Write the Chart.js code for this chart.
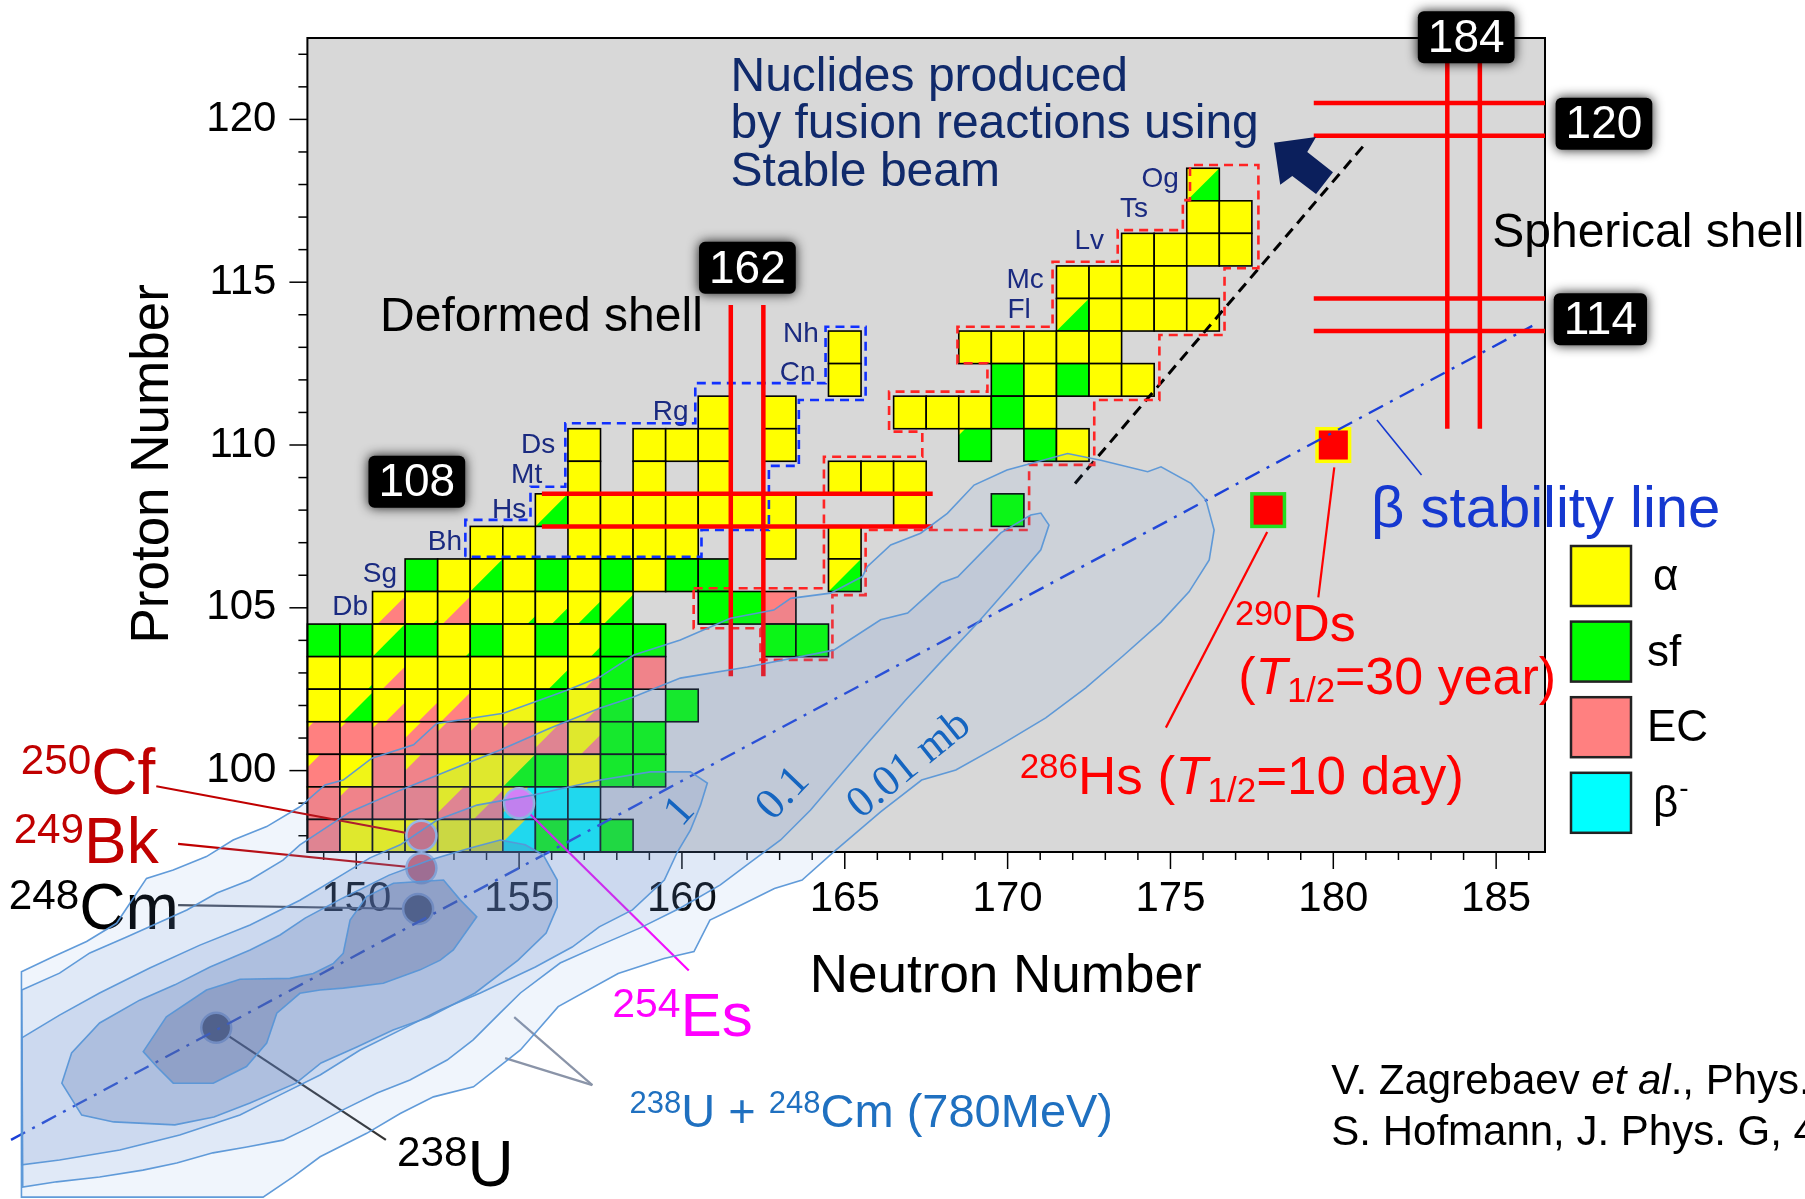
<!DOCTYPE html>
<html>
<head>
<meta charset="utf-8">
<script src="https://cdn.jsdelivr.net/npm/chart.js@4.4.1/dist/chart.umd.min.js"></script>
<style>
  html, body { margin: 0; padding: 0; background: #fff; }
  #wrap { width: 1805px; height: 1199px; }
</style>
</head>
<body>
<div id="wrap"><canvas id="chart" width="1805" height="1199"></canvas></div>
<script>
// --- Axis ranges and tick labels ---
const N_RANGE = [148.5, 186.5];
const Z_RANGE = [97.5, 122.5];
const X_TICKS = [150, 155, 160, 165, 170, 175, 180, 185];
const Y_TICKS = [100, 105, 110, 115, 120];

// --- Decay modes, one row per Z: [Z, first N, modes] ---
// a = alpha, s = sf, e = EC, b = beta-, '.' = nothing, 'a/s0.5' = split cell (lower-right part)
const DECAY_ROWS = [
  [118, 176, 'a/s1'],
  [117, 176, 'a a'],
  [116, 174, 'a a a a'],
  [115, 172, 'a a a a'],
  [114, 172, 'a/s1 a a a a'],
  [113, 165, 'a . . . a a a a a'],
  [112, 165, 'a . . . . s a s a a'],
  [111, 161, 'a . a . . . a a a s a'],
  [110, 157, 'a . a a a . a . . . . . a/s1.8 . s a'],
  [109, 157, 'a . a . a . . . a a a'],
  [108, 156, 'a/s1 a a a a a a a . . . a . . s'],
  [107, 154, 'a a . a a a a . . a . a'],
  [106, 152, 's a a/s1 a s a s a s s . . . a/s1'],
  [105, 151, 'a/e0.85 a/s0.15 a/e0.85 a a/s0.25 a/s0.5 a/s0.7 a/s0.9 . . s s e'],
  [104, 149, 's s a/s1 s a/s0.15 s a s a/s0.3 s s . . . s s'],
  [103, 149, 'a a/s0.15 a/e0.7 a a a a a/s0.6 a/e0.5 s e'],
  [102, 149, 'a a/s0.9 a/e0.6 a/e0.6 a/e0.9 a a s a/e0.5 s . s'],
  [101, 149, 'a/e1.8 a/e1.8 a/e1.8 a/e1.5 a/e1.7 a/e1.7 a/e1.8 a/e1.2 a/e0.6 s s'],
  [100, 149, 'a/e1.6 a e a/e1.5 a a a/s1 s a s s'],
  [99, 149, 'a/e1.9 a/e1.7 e e a/e1.2 a/e0.9 a/b1.2 b b'],
  [98, 149, 'e a a a a a a/b1.3 s b s']
];

// --- Newly predicted nuclides (286Hs, 290Ds) ---
const NEW_N = [178, 180];
const NEW_Z = [108, 110];

// --- Target / projectile nuclei markers ---
const TARGET_NAMES = ['250Cf', '249Bk', '248Cm', '254Es', '238U'];
const TARGET_N = [152, 152, 151.9, 155, 145.7];
const TARGET_Z = [98, 97, 95.75, 99, 92.1];

// --- Magic numbers ---
const MAGIC_Z = [108, 114, 120];
const MAGIC_Z_SPAN = [[155.7, 167.7], [179.4, 186.5], [179.4, 186.5]];
const MAGIC_N = [162, 184];
const MAGIC_N_SPAN = [[102.9, 114.3], [110.5, 121.8]];

// --- Lines ---
const BETA_LINE = [[139.4, 88.66], [186.11, 113.66]];
const FUSION_LIMIT = [[172.07, 108.82], [180.92, 119.18]];

// --- Dashed outlines of the produced regions ---
const COLD_FUSION_BOX = [[153.35,106.57],[153.35,107.7],[155.35,107.7],[155.35,108.72],[156.42,108.72],[156.42,110.67],
  [160.41,110.67],[160.41,111.9],[164.41,111.9],[164.41,113.63],[165.64,113.63],[165.64,111.38],[163.59,111.38],
  [163.59,109.36],[162.67,109.36],[162.67,107.39],[160.6,107.39],[160.6,106.57],[153.35,106.57]];
const HOT_FUSION_BOX = [[160.36,105.6],[164.36,105.6],[164.36,109.64],[167.38,109.64],[167.38,110.41],[166.36,110.41],
  [166.36,111.64],[169.38,111.64],[169.38,112.51],[168.46,112.51],[168.46,113.63],[171.38,113.63],[171.38,115.63],
  [173.38,115.63],[173.38,116.6],[175.38,116.6],[175.38,117.52],[175.6,117.52],[175.6,118.6],[177.7,118.6],
  [177.7,115.43],[176.66,115.43],[176.66,113.38],[174.66,113.38],[174.66,111.38],[172.66,111.38],[172.66,109.39],
  [170.66,109.39],[170.66,107.39],[165.64,107.39],[165.64,105.39],[164.62,105.39],[164.62,103.4],[162.41,103.4],
  [162.41,104.37],[160.36,104.37],[160.36,105.6]];

// --- Cross-section contours of 238U + 248Cm (outer to inner) ---
const CONTOUR_001 = [[139.72,93.82],[140.69,94.28],[141.72,94.75],[142.64,95.31],[143.56,96.69],[144.38,96.95],
  [145.40,97.36],[146.22,97.87],[147.25,98.28],[148.27,98.89],[149.04,99.56],[149.60,99.71],[150.48,100.38],
  [151.76,100.79],[152.47,101.45],[154.52,101.76],[156.47,102.47],[157.49,102.88],[158.52,103.55],[159.95,104.01],
  [161.49,104.68],[162.82,104.93],[163.34,105.29],[164.56,105.45],[165.54,105.96],[165.69,106.26],[166.41,106.93],
  [167.33,107.29],[168.15,107.90],[168.97,108.77],[169.98,109.23],[171.84,109.74],[172.86,109.53],[174.30,109.18],
  [174.71,109.33],[175.63,108.82],[176.09,108.31],[176.34,107.39],[176.19,106.47],[175.57,105.49],[174.71,104.56],
  [173.54,103.52],[172.40,102.54],[171.17,101.62],[169.79,100.79],[168.41,100.02],[167.36,99.71],[166.10,98.73],
  [164.67,97.51],[163.69,96.64],[162.84,96.38],[161.71,95.82],[160.86,95.41],[160.37,94.44],[159.45,94.23],
  [158.04,93.77],[156.20,92.75],[155.04,91.42],[153.60,90.29],[152.37,89.98],[151.35,89.47],[150.32,88.86],
  [148.89,88.14],[148.07,87.53],[147.14,86.90],[139.72,86.90]];
const CONTOUR_01 = [[139.73,93.26],[140.89,93.78],[141.82,94.40],[142.95,94.89],[144.80,95.72],[145.72,96.24],
  [146.74,96.64],[147.75,97.25],[148.27,97.72],[149.81,98.73],[151.35,99.40],[152.88,100.02],[154.42,100.63],
  [155.96,101.31],[157.49,101.92],[158.51,102.26],[159.95,102.84],[162.01,103.18],[164.66,103.70],[166.10,104.63],
  [166.93,104.84],[167.95,105.76],[168.47,105.95],[169.79,107.30],[170.71,107.85],[171.02,107.91],[171.27,107.54],
  [171.02,106.78],[170.10,105.70],[169.02,104.47],[167.95,103.34],[166.87,102.17],[165.79,100.94],[164.87,99.87],
  [163.95,98.79],[163.03,97.87],[162.11,97.19],[161.18,96.49],[159.95,95.78],[158.72,95.17],[157.49,94.64],
  [156.26,94.09],[155.04,93.17],[154.42,92.56],[153.59,91.73],[152.79,91.11],[151.65,90.50],[150.64,90.10],
  [149.59,89.58],[148.58,89.05],[147.75,88.65],[146.64,88.44],[145.60,88.26],[144.49,87.95],[143.45,87.73],
  [142.12,87.52],[140.80,87.37],[139.76,87.21]];
const CONTOUR_1 = [[139.73,91.79],[140.89,92.49],[142.12,93.17],[143.66,93.94],[145.20,94.64],[146.74,95.26],
  [148.27,96.02],[149.50,96.76],[150.42,97.32],[151.35,97.72],[152.48,98.48],[153.71,98.94],[155.43,99.25],
  [157.49,99.71],[159.03,99.96],[160.26,99.96],[160.78,99.62],[160.57,98.94],[160.26,98.17],[159.86,97.50],
  [159.46,96.64],[158.48,95.72],[157.46,95.20],[156.63,94.58],[155.50,93.97],[153.81,93.17],[152.58,92.65],
  [151.35,92.03],[150.12,91.42],[148.89,90.65],[147.66,90.04],[146.43,89.42],[144.58,88.81],[142.74,88.35],
  [140.89,88.04],[139.73,87.89]];
const CONTOUR_10 = [[140.96,90.40],[141.26,91.33],[142.12,92.25],[143.35,92.95],[144.43,93.42],[145.51,93.97],
  [146.74,94.49],[147.66,94.95],[148.43,95.47],[149.59,96.09],[151.01,96.79],[152.24,97.25],[153.50,97.62],
  [154.42,97.87],[155.19,97.72],[155.74,97.41],[156.17,96.64],[156.17,95.81],[155.83,95.01],[154.97,94.18],
  [153.65,93.17],[152.24,92.43],[151.13,92.03],[150.02,91.51],[148.92,91.02],[148.15,90.40],[146.74,89.79],
  [145.63,89.36],[144.43,89.12],[142.55,89.21],[141.57,89.42]];
const CONTOUR_100 = [[143.46,91.37],[144.17,92.44],[145.40,93.26],[146.43,93.59],[147.96,93.62],[148.68,93.77],
  [149.30,94.08],[149.60,94.39],[149.81,95.41],[150.32,96.13],[151.14,96.54],[152.68,96.64],[153.19,96.03],
  [153.70,95.51],[152.98,94.49],[152.58,94.18],[151.96,93.88],[150.83,93.47],[149.60,93.32],[148.89,93.26],
  [148.27,93.16],[147.56,92.55],[147.25,91.63],[146.63,90.91],[145.61,90.40],[144.38,90.40],[143.87,90.91]];
const CONTOUR_LABELS = ['1', '0.1', '0.01 mb'];

const LEGEND_MODES = ['a', 's', 'e', 'b'];
const LEGEND_LABELS = ['α', 'sf', 'EC', 'β'];

// --- Styles ---
const SANS = '"Liberation Sans", Arial, Helvetica, sans-serif';
const SERIF = '"Liberation Serif", "Times New Roman", serif';
const MODE_COLORS = { a: '#ffff00', s: '#00ff00', e: '#ff8080', b: '#00ffff' };
const CONTOUR_FILLS = ['rgba(105,155,225,0.10)', 'rgba(107,137,202,0.12)', 'rgba(97,125,193,0.15)',
  'rgba(85,116,174,0.25)', 'rgba(75,94,149,0.30)'];
const TARGET_COLORS = ['#eb6a70', '#e0606a', '#4a4c55', '#f07cff', '#4a4c55'];

function drawCell(ctx, X, Y, n, z, tok) {
  const m = /^([abes])(?:\/([abes])([\d.]+))?$/.exec(tok);
  if (!m) return;
  const x0 = X(n - 0.5), x1 = X(n + 0.5), y0 = Y(z + 0.5), y1 = Y(z - 0.5);
  const w = x1 - x0, h = y1 - y0;
  ctx.fillStyle = MODE_COLORS[m[1]];
  ctx.fillRect(x0, y0, w, h);
  if (m[2]) {
    const f = parseFloat(m[3]);
    ctx.save();
    ctx.beginPath(); ctx.rect(x0, y0, w, h); ctx.clip();
    ctx.beginPath();
    ctx.moveTo(x1 - f * w, y1); ctx.lineTo(x1, y1); ctx.lineTo(x1, y1 - f * h); ctx.closePath();
    ctx.fillStyle = MODE_COLORS[m[2]];
    ctx.fill();
    ctx.restore();
  }
  ctx.strokeStyle = '#000';
  ctx.lineWidth = 1.6;
  ctx.strokeRect(x0, y0, w, h);
}

function polyPath(ctx, X, Y, pts, close) {
  ctx.beginPath();
  pts.forEach(([n, z], i) => i ? ctx.lineTo(X(n), Y(z)) : ctx.moveTo(X(n), Y(z)));
  if (close) ctx.closePath();
}

// text with superscript / subscript / italic runs, left aligned on baseline
function rich(ctx, x, y, runs, size, color) {
  let cx = x;
  ctx.textAlign = 'left';
  ctx.textBaseline = 'alphabetic';
  ctx.fillStyle = color;
  runs.forEach(r => {
    const s = (r.sup || r.sub) ? size * 0.66 : size;
    ctx.font = (r.it ? 'italic ' : '') + s + 'px ' + SANS;
    const dy = r.sup ? -size * 0.31 : r.sub ? size * 0.15 : 0;
    ctx.fillText(r.t, cx, y + dy);
    cx += ctx.measureText(r.t).width;
  });
}

function text(ctx, str, x, y, size, color, align, font) {
  ctx.font = size + 'px ' + (font || SANS);
  ctx.fillStyle = color;
  ctx.textAlign = align || 'left';
  ctx.textBaseline = 'alphabetic';
  ctx.fillText(str, x, y);
}

function tagBox(ctx, cx, cy, str) {
  ctx.font = '46px ' + SANS;
  const w = ctx.measureText(str).width + 20, h = 52;
  ctx.save();
  ctx.shadowColor = 'rgba(0,0,0,0.9)';
  ctx.shadowBlur = 12;
  ctx.fillStyle = '#000';
  ctx.beginPath();
  ctx.roundRect(cx - w / 2, cy - h / 2, w, h, 6);
  ctx.fill();
  ctx.restore();
  ctx.fillStyle = '#fff';
  ctx.textAlign = 'center';
  ctx.textBaseline = 'middle';
  ctx.fillText(str, cx, cy + 2);
}

function line(ctx, X, Y, p, q, color, width, dash) {
  ctx.beginPath();
  ctx.moveTo(X(p[0]), Y(p[1]));
  ctx.lineTo(X(q[0]), Y(q[1]));
  ctx.strokeStyle = color;
  ctx.lineWidth = width;
  ctx.setLineDash(dash || []);
  ctx.stroke();
  ctx.setLineDash([]);
}

const nuclidePlugin = {
  id: 'nuclideChart',
  beforeDatasetsDraw(chart) {
    const { ctx, chartArea: a } = chart;
    const X = v => chart.scales.x.getPixelForValue(v);
    const Y = v => chart.scales.y.getPixelForValue(v);
    ctx.save();

    // plot background
    ctx.fillStyle = '#d8d8d8';
    ctx.fillRect(a.left, a.top, a.right - a.left, a.bottom - a.top);

    // nuclide cells
    DECAY_ROWS.forEach(([z, n0, modes]) => {
      modes.split(' ').forEach((tok, k) => { if (tok !== '.') drawCell(ctx, X, Y, n0 + k, z, tok); });
    });

    // 286Hs and 290Ds
    NEW_N.forEach((n, i) => {
      const x0 = X(n - 0.5), y0 = Y(NEW_Z[i] + 0.5);
      const w = X(n + 0.5) - x0, h = Y(NEW_Z[i] - 0.5) - y0;
      ctx.fillStyle = '#ff0000';
      ctx.fillRect(x0, y0, w, h);
      ctx.strokeStyle = i === 0 ? '#22e01e' : '#ffff00';
      ctx.lineWidth = 3.5;
      ctx.strokeRect(x0, y0, w, h);
    });

    // frame and ticks
    ctx.strokeStyle = '#000';
    ctx.lineWidth = 1.5;
    for (let n = Math.ceil(N_RANGE[0]); n <= N_RANGE[1]; n++) {
      const len = n % 5 === 0 ? 17 : 8;
      ctx.beginPath(); ctx.moveTo(X(n), a.bottom); ctx.lineTo(X(n), a.bottom + len); ctx.stroke();
    }
    for (let z = Math.ceil(Z_RANGE[0]); z <= Z_RANGE[1]; z++) {
      const len = z % 5 === 0 ? 18 : 9;
      ctx.beginPath(); ctx.moveTo(a.left, Y(z)); ctx.lineTo(a.left - len, Y(z)); ctx.stroke();
    }
    ctx.lineWidth = 2;
    ctx.strokeRect(a.left, a.top, a.right - a.left, a.bottom - a.top);

    // element labels
    const elems = [['Db',150.36,104.78],['Sg',151.25,105.80],['Bh',153.25,106.78],['Hs',155.22,107.75],
      ['Mt',155.71,108.82],['Ds',156.11,109.76],['Rg',160.20,110.77],['Cn',164.10,111.98],['Nh',164.20,113.17],
      ['Fl',170.71,113.89],['Mc',171.11,114.81],['Lv',172.96,116.01],['Ts',174.31,117.01],['Og',175.26,117.93]];
    elems.forEach(([t, n, z]) => text(ctx, t, X(n), Y(z), 28, '#1a2a80', 'right'));

    // leader lines to the target nuclei
    line(ctx, X, Y, [143.86, 99.52], [TARGET_N[0], TARGET_Z[0]], '#c00000', 2.2);
    line(ctx, X, Y, [144.53, 97.75], [TARGET_N[1], TARGET_Z[1]], '#c00000', 2.2);
    line(ctx, X, Y, [144.53, 95.87], [TARGET_N[2], TARGET_Z[2]], '#4a4f5a', 2.2);
    line(ctx, X, Y, [TARGET_N[3], TARGET_Z[3]], [160.21, 93.86], '#ff00ff', 2.2);
    line(ctx, X, Y, [TARGET_N[4], TARGET_Z[4]], [150.91, 88.66], '#333', 2.2);
    line(ctx, X, Y, [154.85, 92.43], [157.25, 90.34], '#8a94a8', 2.2);
    line(ctx, X, Y, [154.57, 91.17], [157.25, 90.34], '#8a94a8', 2.2);

    // target nuclei (under the contours, like in the original figure)
    TARGET_N.forEach((n, i) => {
      ctx.beginPath();
      ctx.arc(X(n), Y(TARGET_Z[i]), 15, 0, 2 * Math.PI);
      ctx.fillStyle = TARGET_COLORS[i];
      ctx.fill();
      ctx.lineWidth = 2.5;
      ctx.strokeStyle = '#a7c3ea';
      ctx.stroke();
    });

    // 248Cm label sits under the contours
    rich(ctx, X(139.33), Y(95.14), [{ t: '248', sup: 1 }, { t: 'Cm' }], 64, '#000');

    ctx.restore();
  },

  afterDatasetsDraw(chart) {
    const { ctx, chartArea: a } = chart;
    const X = v => chart.scales.x.getPixelForValue(v);
    const Y = v => chart.scales.y.getPixelForValue(v);
    ctx.save();

    // cross-section contours
    [CONTOUR_001, CONTOUR_01, CONTOUR_1, CONTOUR_10, CONTOUR_100].forEach((c, i) => {
      polyPath(ctx, X, Y, c, true);
      ctx.fillStyle = CONTOUR_FILLS[i];
      ctx.fill();
      ctx.strokeStyle = 'rgba(88,150,215,0.95)';
      ctx.lineWidth = 1.6;
      ctx.stroke();
    });

    // contour labels
    [[159.95, 98.73, -48], [163.12, 99.28, -46], [166.99, 100.17, -39]].forEach(([n, z, rot], i) => {
      ctx.save();
      ctx.translate(X(n), Y(z));
      ctx.rotate(rot * Math.PI / 180);
      ctx.font = '44px ' + SERIF;
      ctx.fillStyle = '#1565c0';
      ctx.textAlign = 'center';
      ctx.textBaseline = 'middle';
      ctx.fillText(CONTOUR_LABELS[i], 0, 0);
      ctx.restore();
    });

    // arrow towards the stable-beam fusion region
    polyPath(ctx, X, Y, [[178.18,119.28],[179.47,119.46],[179.20,119.0],[179.99,118.38],[179.47,117.71],
      [178.74,118.26],[178.37,117.99]], true);
    ctx.fillStyle = '#0b1f5c';
    ctx.fill();

    // magic-number tags
    tagBox(ctx, X(151.86), Y(108.87), '108');
    tagBox(ctx, X(162.01), Y(115.44), '162');
    tagBox(ctx, X(184.08), Y(122.52), '184');
    tagBox(ctx, X(188.31), Y(119.87), '120');
    tagBox(ctx, X(188.2), Y(113.86), '114');

    // annotations
    ['Nuclides produced', 'by fusion reactions using', 'Stable beam'].forEach((t, i) =>
      text(ctx, t, X(161.49), Y([120.88, 119.42, 117.95][i]), 48, '#102a6b'));
    text(ctx, 'Deformed shell', X(150.73), Y(113.5), 48, '#000');
    text(ctx, 'Spherical shell', X(184.88), Y(116.09), 48, '#000');
    text(ctx, 'β stability line', X(181.16), Y(107.48), 58, '#1538d0');

    rich(ctx, X(176.98), Y(103.98), [{ t: '290', sup: 1 }, { t: 'Ds' }], 52, '#ff0000');
    rich(ctx, X(177.08), Y(102.36), [{ t: '(' }, { t: 'T', it: 1 }, { t: '1/2', sub: 1 }, { t: '=30 year)' }], 52, '#ff0000');
    rich(ctx, X(170.37), Y(99.28), [{ t: '286', sup: 1 }, { t: 'Hs (' }, { t: 'T', it: 1 }, { t: '1/2', sub: 1 }, { t: '=10 day)' }], 53, '#ff0000');

    rich(ctx, X(139.70), Y(99.28), [{ t: '250', sup: 1 }, { t: 'Cf' }], 64, '#c00000');
    rich(ctx, X(139.48), Y(97.16), [{ t: '249', sup: 1 }, { t: 'Bk' }], 64, '#c00000');
    rich(ctx, X(157.86), Y(91.85), [{ t: '254', sup: 1 }, { t: 'Es' }], 62, '#ff00ff');
    rich(ctx, X(151.25), Y(87.24), [{ t: '238', sup: 1 }, { t: 'U' }], 64, '#000');
    rich(ctx, X(158.39), Y(89.05), [{ t: '238', sup: 1 }, { t: 'U + ' }, { t: '248', sup: 1 }, { t: 'Cm (780MeV)' }], 47, '#1f70c0');

    // citations
    rich(ctx, X(179.94), Y(90.07), [{ t: 'V. Zagrebaev ' }, { t: 'et al', it: 1 }, { t: '., Phys. Rev. C 78, 034610 (2008)' }], 42, '#000');
    text(ctx, 'S. Hofmann, J. Phys. G, 42, 114001 (2015)', X(179.94), Y(88.5), 42, '#000');

    // axis titles
    text(ctx, 'Neutron Number', X(169.94), Y(93.21), 53, '#000', 'center');
    ctx.save();
    ctx.translate(X(144.22), Y(109.42));
    ctx.rotate(-Math.PI / 2);
    text(ctx, 'Proton Number', 0, 0, 53, '#000', 'center');
    ctx.restore();

    // legend
    LEGEND_MODES.forEach((m, i) => {
      const top = a.top + 508 + i * 75.6, left = a.right + 26;
      ctx.fillStyle = MODE_COLORS[m];
      ctx.fillRect(left, top, 60, 60);
      ctx.strokeStyle = '#222';
      ctx.lineWidth = 2.5;
      ctx.strokeRect(left, top, 60, 60);
      ctx.font = '44px ' + SANS;
      ctx.fillStyle = '#000';
      ctx.textAlign = 'left';
      ctx.textBaseline = 'middle';
      const lx = left + (i === 0 || i === 3 ? 82 : 76);
      ctx.fillText(LEGEND_LABELS[i], lx, top + 32);
      if (i === 3) {
        const w = ctx.measureText(LEGEND_LABELS[i]).width;
        ctx.font = '28px ' + SANS;
        ctx.fillText('-', lx + w + 1, top + 16);
      }
    });

    ctx.restore();
  }
};

function pts(arr) { return arr.map(p => ({ x: p[0], y: p[1] })); }

const lineSets = [];
MAGIC_Z.forEach((z, i) => [z - 0.5, z + 0.5].forEach(v => lineSets.push({
  data: [{ x: MAGIC_Z_SPAN[i][0], y: v }, { x: MAGIC_Z_SPAN[i][1], y: v }],
  borderColor: '#ff0000', borderWidth: 4.5
})));
MAGIC_N.forEach((n, i) => [n - 0.5, n + 0.5].forEach(v => lineSets.push({
  data: [{ x: v, y: MAGIC_N_SPAN[i][0] }, { x: v, y: MAGIC_N_SPAN[i][1] }],
  borderColor: '#ff0000', borderWidth: 4.5
})));
lineSets.push({ data: pts([[177.97, 107.33], [174.86, 101.32]]), borderColor: '#ff0000', borderWidth: 2.2 });
lineSets.push({ data: pts([[180.03, 109.31], [179.54, 105.32]]), borderColor: '#ff0000', borderWidth: 2.2 });
lineSets.push({ data: pts([[181.34, 110.77], [182.71, 109.08]]), borderColor: '#1538d0', borderWidth: 1.6 });
lineSets.push({ data: pts(COLD_FUSION_BOX), borderColor: '#1030ff', borderWidth: 2.6, borderDash: [9, 6] });
lineSets.push({ data: pts(HOT_FUSION_BOX), borderColor: '#ff2424', borderWidth: 2.6, borderDash: [9, 6] });
lineSets.push({ data: pts(FUSION_LIMIT), borderColor: '#000', borderWidth: 3, borderDash: [11, 7] });
lineSets.push({ data: pts(BETA_LINE), borderColor: '#1a3fd8', borderWidth: 2.4, borderDash: [16, 8, 3, 8] });

const datasets = lineSets.map(d => Object.assign({
  showLine: true, pointRadius: 0, fill: false, tension: 0, clip: false, borderCapStyle: 'butt'
}, d));

const tickFont = { family: SANS, size: 42 };

new Chart(document.getElementById('chart').getContext('2d'), {
  type: 'scatter',
  data: { datasets },
  options: {
    responsive: false,
    animation: false,
    devicePixelRatio: 1,
    events: [],
    layout: { autoPadding: false, padding: { left: 0, top: 38, right: 260, bottom: 247 } },
    plugins: { legend: { display: false }, tooltip: { enabled: false } },
    scales: {
      x: {
        type: 'linear', min: N_RANGE[0], max: N_RANGE[1],
        afterBuildTicks: s => { s.ticks = X_TICKS.map(v => ({ value: v })); },
        afterFit: s => { s.height = 100; s.paddingLeft = 0; s.paddingRight = 0; },
        grid: { display: false, drawTicks: false },
        border: { display: false },
        ticks: { font: tickFont, color: '#000', padding: 22, maxRotation: 0, autoSkip: false }
      },
      y: {
        type: 'linear', min: Z_RANGE[0], max: Z_RANGE[1],
        afterBuildTicks: s => { s.ticks = Y_TICKS.map(v => ({ value: v })); },
        afterFit: s => { s.width = 307.4; s.paddingTop = 0; s.paddingBottom = 0; },
        grid: { display: false, drawTicks: false },
        border: { display: false },
        ticks: { font: tickFont, color: '#000', padding: 31, autoSkip: false }
      }
    }
  },
  plugins: [nuclidePlugin]
});
</script>
</body>
</html>
